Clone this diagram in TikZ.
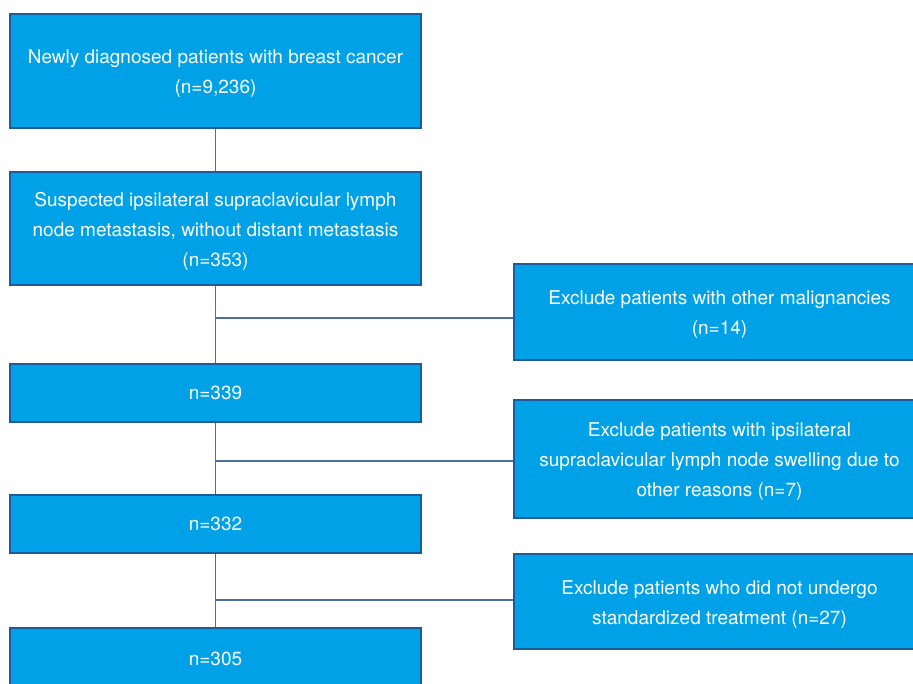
\documentclass[tikz,border=0pt]{standalone}
\usepackage{fontspec}
\setmainfont{TeX Gyre Heros}
\usetikzlibrary{positioning,calc}
\definecolor{boxfill}{HTML}{00A1E7}
\definecolor{boxedge}{HTML}{1D5C99}
\definecolor{linkcol}{HTML}{4A709E}
\newcommand{\topgap}{\rule{0pt}{20pt}}
\tikzset{
  stage/.style={rectangle, draw=boxedge, line width=1.3pt, fill=boxfill, text=white,
                align=center, minimum width=411pt, inner sep=0pt,
                font=\fontsize{19}{30}\selectfont},
  link/.style={draw=linkcol, line width=1.5pt},
}

\begin{document}
\begin{tikzpicture}[x=1pt, y=-1pt]
\useasboundingbox (0,0) rectangle (913,684);
% main column
\node[stage, minimum height=114pt] (all) at (215.5,71) {\topgap Newly diagnosed patients with breast cancer\\(n=9,236)};
\node[stage, minimum height=113pt] (susp) at (215.5,228.5) {\topgap Suspected ipsilateral supraclavicular lymph\\node metastasis, without distant metastasis\\(n=353)};
\node[stage, minimum height=58pt] (n339) at (215.5,393) {n=339};
\node[stage, minimum height=58pt] (n332) at (215.5,524) {n=332};
\node[stage, minimum height=62pt] (n305) at (215.5,659) {n=305};
% exclusions
\node[stage, minimum height=96pt] (exA) at (719.5,312) {\topgap Exclude patients with other malignancies\\(n=14)};
\node[stage, minimum height=118pt] (exB) at (719.5,459) {\topgap Exclude patients with ipsilateral\\supraclavicular lymph node swelling due to\\other reasons (n=7)};
\node[stage, minimum height=95pt] (exC) at (719.5,601.5) {\topgap Exclude patients who did not undergo\\standardized treatment (n=27)};
\foreach \a/\b in {all/susp,susp/n339,n339/n332,n332/n305}
  \draw[link] (\a) -- (\b);
\foreach \a/\b/\dy in {susp/exA/6,n339/exB/2,n332/exC/-1.5}
  \draw[link] ($(\a.south |- \b.west)+(0,\dy)$) -- ($(\b.west)+(0,\dy)$);
\end{tikzpicture}
\end{document}
